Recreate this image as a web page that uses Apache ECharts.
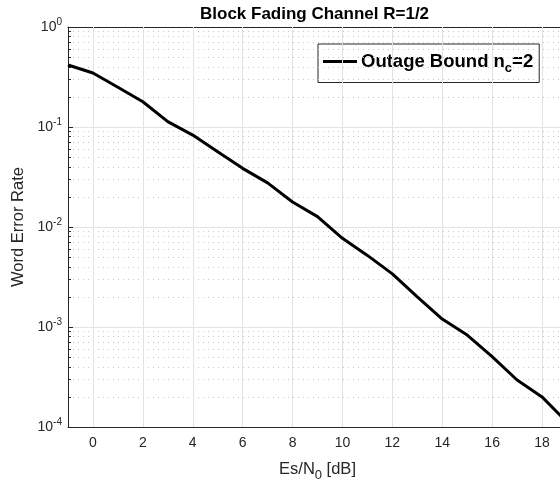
<!DOCTYPE html>
<html>
<head>
<meta charset="utf-8">
<script src="https://cdn.jsdelivr.net/npm/echarts@6/dist/echarts.min.js"></script>
<style>
html,body{margin:0;padding:0;background:#fff;}
#c{width:560px;height:484px;}
</style>
</head>
<body>
<div id="c"></div>
<script>
// ---- data ----
const esn0 = [-1,0,1,2,3,4,5,6,7,8,9,10,11,12,13,14,15,16,17,18,19];
const wer = [0.417,0.347,0.25,0.179,0.113,0.083,0.0567,0.0386,0.0276,0.0178,0.0127,0.0077,0.0052,0.0034,0.0020,0.0012,0.00083,0.000505,0.000295,0.0002,0.000112];
const xTicks = [0,2,4,6,8,10,12,14,16,18];
const yDecades = [1e-4,1e-3,1e-2,1e-1,1];
const minorMult = [2,3,4,5,6,7,8,9];

const FONT = 'Liberation Sans, Arial, Helvetica, sans-serif';
const AX = '#262626';

const minorVals = [];
for (let d = 0; d < yDecades.length - 1; d++) {
  minorMult.forEach(m => minorVals.push(+(m * yDecades[d]).toPrecision(3)));
}

const minorGrid = minorVals.map(v => ({yAxis: v}));
const xGrid = xTicks.map(v => ({xAxis: v}));
const minorTicks = minorVals.map(v => [{coord: [-1, v]}, {coord: [-0.88, v]}]);

const chart = echarts.init(document.getElementById('c'), null, {renderer: 'canvas'});
chart.setOption({
  animation: false,
  backgroundColor: '#fff',
  title: {
    text: 'Block Fading Channel R=1/2',
    left: 195, top: 1,
    textStyle: {fontFamily: FONT, fontSize: 17, fontWeight: 'bold', color: '#000'}
  },
  legend: {
    left: 318, top: 44,
    padding: [8, 6, 8, 5],
    backgroundColor: '#fff',
    borderColor: AX, borderWidth: 1,
    itemWidth: 34, itemHeight: 3,
    itemGap: 4,
    icon: 'rect',
    data: ['Outage Bound'],
    formatter: () => '{a|Outage Bound n}{s|c}{a|=2}',
    textStyle: {
      fontFamily: FONT, color: '#000', padding: [0,0,0,-1],
      rich: {
        a: {fontFamily: FONT, fontSize: 18.5, fontWeight: 'bold', color: '#000'},
        s: {fontFamily: FONT, fontSize: 13, fontWeight: 'bold', color: '#000', padding: [13,0,0,0]}
      }
    }
  },
  grid: {left: 68, top: 27, right: -7, bottom: 57, containLabel: false, outerBoundsMode: 'none'},
  xAxis: [{
    type: 'value', min: -1, max: 19,
    name: '{a|Es/N}{s|0}{a| [dB]}',
    nameLocation: 'middle', nameGap: 30,
    nameTextStyle: {
      rich: {
        a: {fontFamily: FONT, fontSize: 16.5, color: AX},
        s: {fontFamily: FONT, fontSize: 13, color: AX, padding: [12,0,0,0]}
      }
    },
    axisLine: {onZero: false, lineStyle: {color: AX, width: 1}},
    axisTick: {inside: true, length: 5, customValues: xTicks, lineStyle: {color: AX}},
    axisLabel: {customValues: xTicks, margin: 9, fontFamily: FONT, fontSize: 14, color: AX},
    splitLine: {show: false}
  }, {
    type: 'value', min: -1, max: 19, position: 'top',
    axisLine: {onZero: false, lineStyle: {color: AX, width: 1}},
    axisTick: {inside: true, length: 5, customValues: xTicks, lineStyle: {color: AX}},
    axisLabel: {show: false},
    splitLine: {show: false}
  }],
  yAxis: {
    type: 'log', logBase: 10, min: 1e-4, max: 1,
    name: 'Word Error Rate',
    nameLocation: 'middle', nameGap: 41,
    nameTextStyle: {fontFamily: FONT, fontSize: 16.5, color: AX},
    axisLine: {show: true, onZero: false, lineStyle: {color: AX, width: 1}},
    axisTick: {inside: true, length: 5, lineStyle: {color: AX}},
    axisLabel: {
      margin: 6,
      formatter: v => '{b|10}{s|' + Math.round(Math.log10(v)) + '}',
      rich: {
        b: {fontFamily: FONT, fontSize: 14, color: AX},
        s: {fontFamily: FONT, fontSize: 10, color: AX, padding: [0,0,10,0]}
      }
    },
    splitLine: {show: true, lineStyle: {color: '#e3e3e3', width: 1}},
    minorTick: {show: false},
    minorSplitLine: {show: false}
  },
  series: [{
    name: 'Outage Bound',
    type: 'line',
    data: esn0.map((x, i) => [x, wer[i]]),
    showSymbol: false, symbol: 'none',
    lineStyle: {color: '#000', width: 3},
    itemStyle: {color: '#000'},
    z: 10
  }, {
    name: 'grid', type: 'line', data: [], z: 1,
    markLine: {
      silent: true, symbol: 'none', animation: false, label: {show: false},
      precision: 12,
      lineStyle: {color: '#c8c8c8', type: [1, 4], width: 1},
      data: minorGrid
    }
  }, {
    name: 'xgrid', type: 'line', data: [], z: 1,
    markLine: {
      silent: true, symbol: 'none', animation: false, label: {show: false},
      precision: 12,
      lineStyle: {color: '#e3e3e3', type: 'solid', width: 1},
      data: xGrid
    }
  }, {
    name: 'minorticks', type: 'line', data: [], z: 5,
    markLine: {
      silent: true, symbol: 'none', animation: false, label: {show: false},
      precision: 12,
      lineStyle: {color: AX, type: 'solid', width: 1},
      data: minorTicks
    }
  }]
});
</script>
</body>
</html>
